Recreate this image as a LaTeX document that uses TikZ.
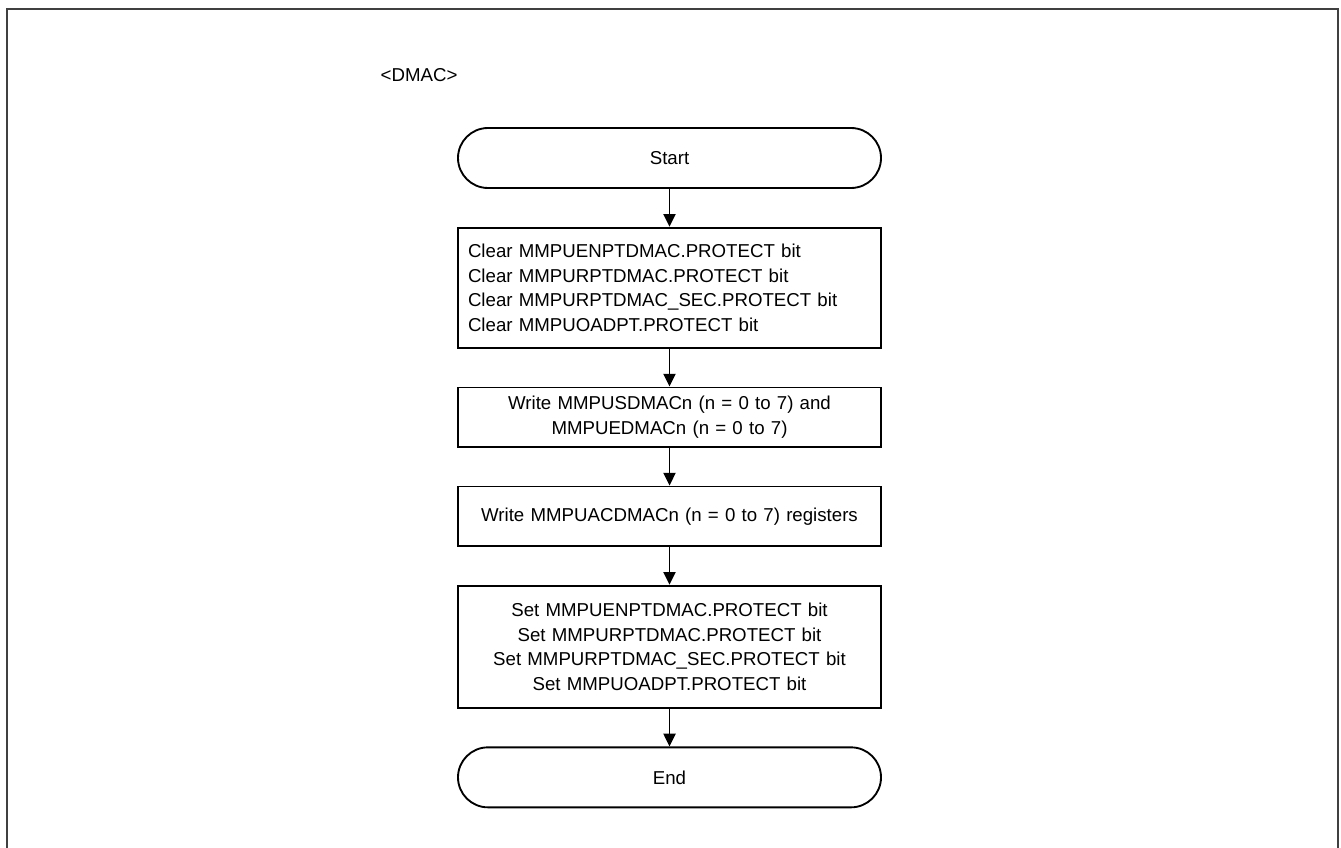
\documentclass[tikz,border=0pt]{standalone}
\usepackage{fontspec}
\setmainfont{Liberation Sans}
\usetikzlibrary{arrows.meta, positioning}

\begin{document}
\begin{tikzpicture}[x=0.75pt, y=-0.75pt, node distance=28.4pt,
    every node/.style={font=\fontsize{14}{18.4}\selectfont},
    term/.style={rectangle, draw, line width=1.4pt, rounded corners=22.5pt, minimum width=317.25pt, minimum height=45pt},
    block/.style={rectangle, draw, line width=1.4pt, minimum width=317.25pt, text width=302.25pt, inner xsep=7.5pt, align=center},
    arrow/.style={line width=1.4pt, -{Triangle[length=9.5pt, width=9pt]}}]
\useasboundingbox (0,0) rectangle (1341,848);
\draw[line width=1.5pt, black!75] (7,9) rectangle (1338,870);
\node (title) [anchor=west] at (376,75) {<DMAC>};
\node (start) [term] at (669.5,158) {Start};
\node (clear) [block, align=left, minimum height=90pt, below=of start] {Clear MMPUENPTDMAC.PROTECT bit\\
Clear MMPURPTDMAC.PROTECT bit\\
Clear MMPURPTDMAC\_SEC.PROTECT bit\\
Clear MMPUOADPT.PROTECT bit};
\node (addr) [block, minimum height=44.5pt, below=of clear] {Write MMPUSDMACn (n = 0 to 7) and\\ MMPUEDMACn (n = 0 to 7)};
\node (acc) [block, minimum height=44.5pt, below=of addr] {Write MMPUACDMACn (n = 0 to 7) registers};
\node (set) [block, minimum height=91.5pt, below=of acc] {Set MMPUENPTDMAC.PROTECT bit\\
Set MMPURPTDMAC.PROTECT bit\\
Set MMPURPTDMAC\_SEC.PROTECT bit\\
Set MMPUOADPT.PROTECT bit};
\node (end) [term, below=of set] {End};
\draw [arrow] (start) -- (clear);
\draw [arrow] (clear) -- (addr);
\draw [arrow] (addr) -- (acc);
\draw [arrow] (acc) -- (set);
\draw [arrow] (set) -- (end);
\end{tikzpicture}
\end{document}
